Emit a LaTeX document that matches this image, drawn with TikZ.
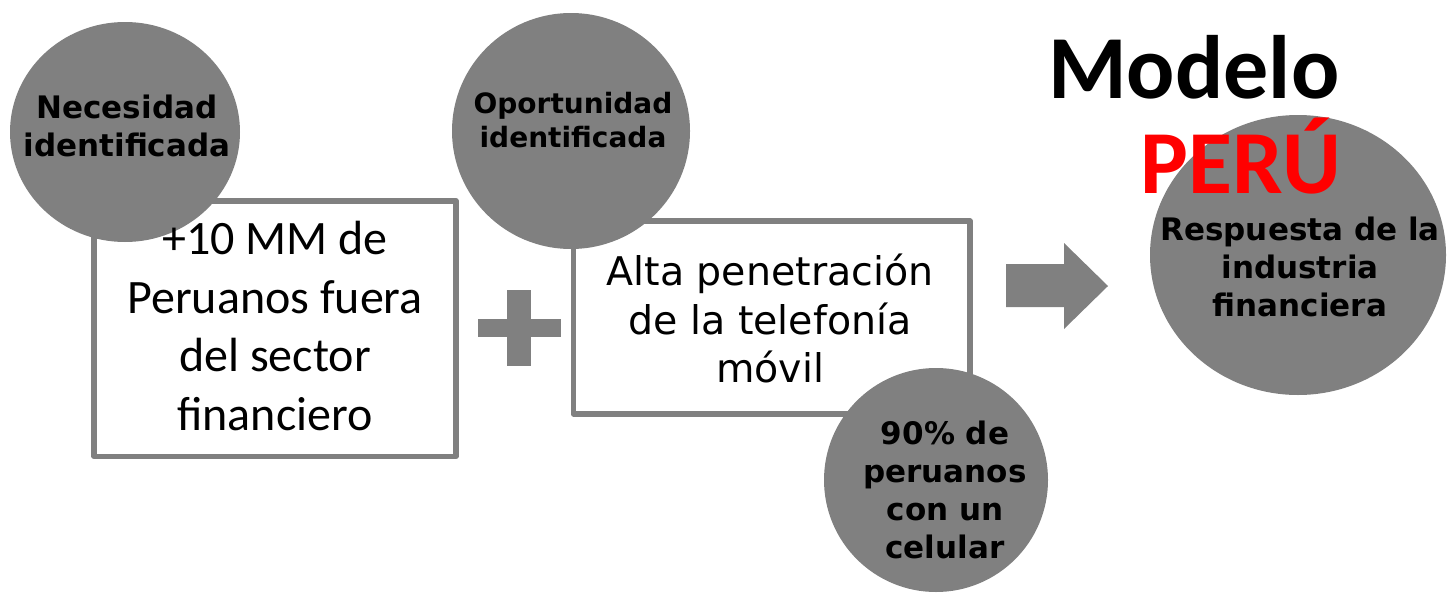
\documentclass[tikz,border=0pt]{standalone}
\usepackage{fontspec}
\setmainfont{DejaVu Sans}
\newfontfamily\calib{Carlito}
\usetikzlibrary{shapes.geometric}
\definecolor{gr}{HTML}{808080}
\definecolor{peru}{HTML}{FF0000}
\begin{document}
\begin{tikzpicture}[x=1pt,y=-1pt,
  disc/.style={ellipse, fill=gr, draw=none, inner sep=0pt},
  frame/.style={rectangle, draw=gr, line width=5.5pt, line join=round, fill=white, inner sep=0pt},
  disctext/.style={font=\bfseries\fontsize{31}{38}\selectfont, align=center, inner sep=0pt, text=black},
  boxtextA/.style={font=\calib\fontsize{48}{58.5}\selectfont, align=center, inner sep=0pt},
  boxtextB/.style={font=\fontsize{39.5}{48.5}\selectfont, align=center, inner sep=0pt},
  title/.style={font=\calib\bfseries\fontsize{90}{90}\selectfont, inner sep=0pt, anchor=base west},
  shapefill/.style={fill=gr, draw=none}
]
\useasboundingbox (0,0) rectangle (1448,597);
\fill[white] (0,0) rectangle (1448,597);

% box 1 and its circle
\node[frame, minimum width=362pt, minimum height=255.5pt] (box1) at (275,328.5) {};
\node[disc, minimum width=230pt, minimum height=220pt] (c1) at (125,132) {};

% box 2 and its circles
\node[frame, minimum width=396.5pt, minimum height=193pt] (box2) at (771.75,317.5) {};
\node[disc, minimum width=238pt, minimum height=236pt] (c2) at (571,131) {};
\node[disc, minimum width=224pt, minimum height=224pt] (c3) at (936,480) {};

% plus sign
\fill[shapefill] (507,290) rectangle (531,366);
\fill[shapefill] (478,319) rectangle (561,336.5);

% arrow
\fill[shapefill] (1006,264) -- (1064,264) -- (1064,243) -- (1108,286) -- (1064,329) -- (1064,307) -- (1006,307) -- cycle;

% result circle
\node[disc, minimum width=296pt, minimum height=280pt] (c4) at (1298,255) {};

% texts
\node[boxtextA] (tb1) at (275,326) {+10 MM de\\Peruanos fuera\\del sector\\financiero};
\node[boxtextB] (tb2) at (770,318.5) {Alta penetración\\de la telefonía\\móvil};
\node[disctext] (t1) at (127,126) {Necesidad\\identificada};
\node[disctext, font=\bfseries\fontsize{28}{34}\selectfont] (t2) at (573,120) {Oportunidad\\identificada};
\node[disctext] (t3) at (945,490) {90\% de\\peruanos\\con un\\celular};
\node[disctext] (t4) at (1300,267) {Respuesta de la\\industria\\financiera};

% title
\node[title, text=black] (modelo) at (1048,98) {Modelo};
\node[title, text=peru] (peru) at (1140,193) {PERÚ};
\end{tikzpicture}
\end{document}
